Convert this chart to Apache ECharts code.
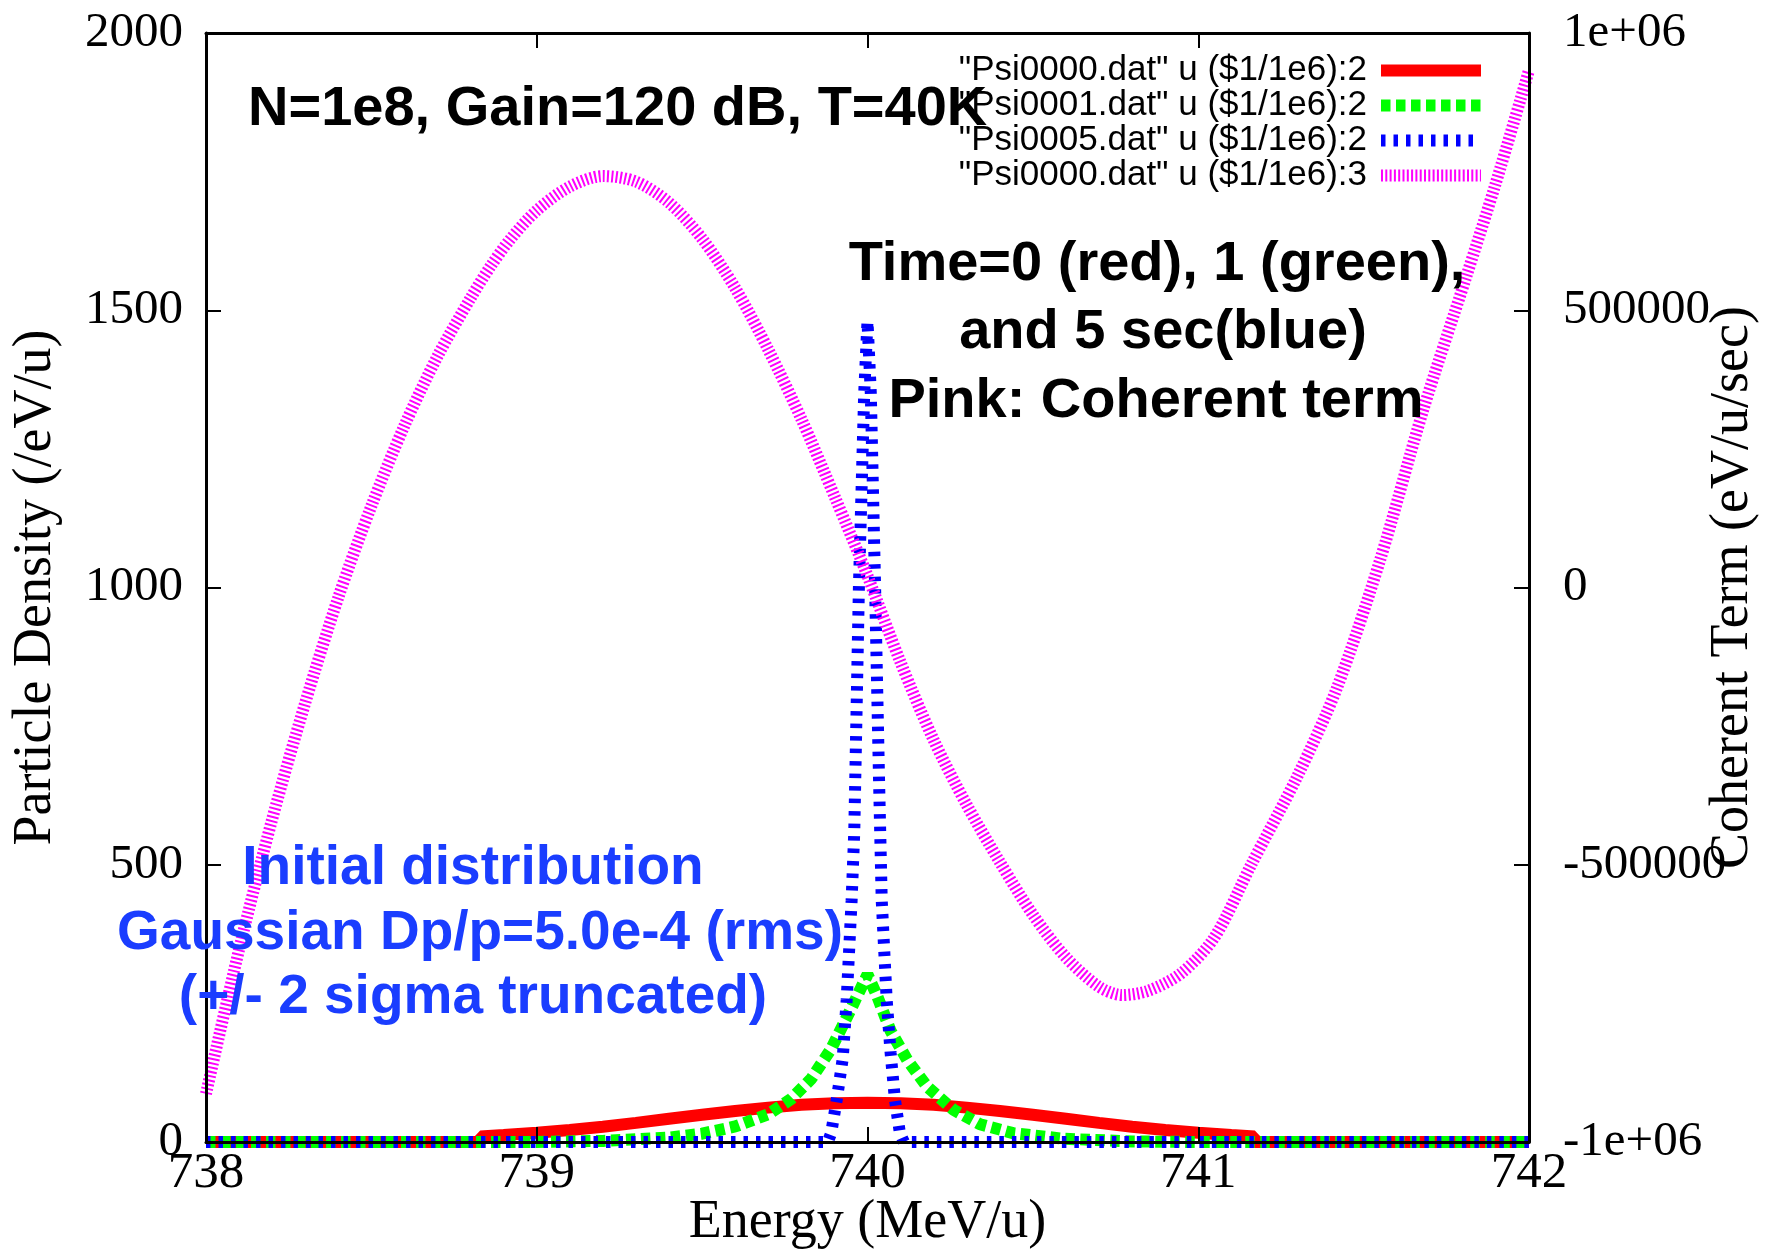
<!DOCTYPE html>
<html><head><meta charset="utf-8">
<script src="https://cdn.jsdelivr.net/npm/echarts@6/dist/echarts.min.js"></script>
<style>html,body{margin:0;padding:0;background:#fff}#c{width:1767px;height:1253px}</style>
</head><body><div id="c"></div>
<script>
// ---- data ----
const redE = [738.0, 738.83, 738.83, 738.9, 739.0, 739.1, 739.2, 739.3, 739.4, 739.5, 739.6, 739.7, 739.8, 739.9, 740.0, 740.1, 740.2, 740.3, 740.4, 740.5, 740.6, 740.7, 740.8, 740.9, 741.0, 741.1, 741.17, 741.17, 742.0];
const redV = [0, 0, 10, 12.5, 16.5, 21.5, 27.5, 34.5, 42, 49, 56, 62, 67, 70, 71, 70, 67, 62, 56, 49, 42, 34.5, 27.5, 21.5, 16.5, 12.5, 10, 0, 0];

const greenE = [738.0, 739.0, 739.2, 739.4, 739.5, 739.6, 739.7, 739.77, 739.83, 739.89, 739.95, 740.0, 740.03, 740.07, 740.12, 740.18, 740.26, 740.34, 740.44, 740.59, 740.8, 741.0, 742.0];
const greenV = [0, 0, 2, 8, 15, 28, 50, 78, 114, 168, 240, 302, 262, 200, 148, 100, 58, 32, 16, 6, 1, 0, 0];

const blueE = [738.0, 739.88, 739.89, 739.907, 739.925, 739.937, 739.952, 739.96, 739.974, 739.99, 740.0, 740.01, 740.023, 740.035, 740.043, 740.058, 740.07, 740.083, 740.098, 740.11, 742.0];
const blueV = [0, 0, 16, 76, 150, 256, 436, 560, 1000, 1350, 1480, 1350, 1000, 650, 436, 256, 160, 76, 16, 0, 0];

const pinkE = [738.0, 738.1, 738.2, 738.3, 738.4, 738.5, 738.6, 738.7, 738.8, 738.86, 738.92, 739.0, 739.1, 739.2, 739.3, 739.4, 739.5, 739.6, 739.7, 739.8, 739.9, 740.0, 740.1, 740.2, 740.3, 740.4, 740.5, 740.6, 740.7, 740.77, 740.85, 740.95, 741.05, 741.16, 741.3, 741.42, 741.55, 741.68, 741.81, 741.9, 742.0];
const pinkV = [-913000, -653000, -418000, -208000, -18000, 147000, 292000, 417000, 522000, 579000, 628000, 680000, 723000, 742000, 732000, 694000, 629000, 540000, 429000, 304000, 165000, 21000, -135000, -275000, -392000, -495000, -590000, -667000, -720000, -735000, -727000, -695000, -630000, -500000, -340000, -180000, 50000, 320000, 560000, 730000, 933000];

const xTicks = [738, 739, 740, 741, 742];
const leftTicks = [0, 500, 1000, 1500, 2000];
const rightTicks = [-1000000, -500000, 0, 500000, 1000000];
const rightTickLabels = ['-1e+06', '-500000', '0', '500000', '1e+06'];

const seriesNames = ['"Psi0000.dat" u ($1/1e6):2', '"Psi0001.dat" u ($1/1e6):2', '"Psi0005.dat" u ($1/1e6):2', '"Psi0000.dat" u ($1/1e6):3'];
const seriesColors = ['#ff0000', '#00ff00', '#0000ff', '#ff00ff'];

// ---- build ----
const zip = (a, b) => a.map((x, i) => [x, b[i]]);
const SERIF = '"Liberation Serif", "Times New Roman", serif';
const SANS = '"Liberation Sans", Arial, sans-serif';
const black = '#000';
const axisLineStyle = {show: true, onZero: false, lineStyle: {color: black, width: 3}};
const tickStyle = {show: true, inside: true, length: 15, lineStyle: {color: black, width: 2}};

const chart = echarts.init(document.getElementById('c'), null, {renderer: 'canvas'});
const option = {
  animation: false,
  backgroundColor: '#fff',
  grid: {left: 206, right: 238, top: 33, bottom: 111, containLabel: false, outerBoundsMode: 'none'},
  xAxis: [
    {type: 'value', min: xTicks[0], max: xTicks[xTicks.length - 1], interval: 1, position: 'bottom', z: 5,
     axisLine: axisLineStyle, axisTick: tickStyle, splitLine: {show: false},
     axisLabel: {margin: 6, fontSize: 51, fontFamily: SERIF, color: black, formatter: v => String(v)},
     name: 'Energy (MeV/u)', nameLocation: 'middle', nameGap: 54, nameMoveOverlap: false,
     nameTextStyle: {fontSize: 54, fontFamily: SERIF, color: black}},
    {type: 'value', min: xTicks[0], max: xTicks[xTicks.length - 1], interval: 1, position: 'top', z: 5,
     axisLine: axisLineStyle, axisTick: tickStyle, splitLine: {show: false}, axisLabel: {show: false}}
  ],
  yAxis: [
    {type: 'value', min: leftTicks[0], max: leftTicks[leftTicks.length - 1], interval: 500, position: 'left', z: 5,
     axisLine: axisLineStyle, axisTick: tickStyle, splitLine: {show: false},
     axisLabel: {margin: 23, fontSize: 49, fontFamily: SERIF, color: black, formatter: v => String(v)},
     name: 'Particle Density (/eV/u)', nameLocation: 'middle', nameGap: 143, nameRotate: 90, nameMoveOverlap: false,
     nameTextStyle: {fontSize: 54, fontFamily: SERIF, color: black}},
    {type: 'value', min: rightTicks[0], max: rightTicks[rightTicks.length - 1], interval: 500000, position: 'right', z: 5,
     axisLine: axisLineStyle, axisTick: tickStyle, splitLine: {show: false},
     axisLabel: {margin: 34, fontSize: 49, fontFamily: SERIF, color: black,
       formatter: v => { const i = rightTicks.indexOf(v); return i >= 0 ? rightTickLabels[i] : String(v); }},
     name: 'Coherent Term (eV/u/sec)', nameLocation: 'middle', nameGap: 177, nameRotate: 90, nameMoveOverlap: false,
     nameTextStyle: {fontSize: 54, fontFamily: SERIF, color: black}}
  ],
  legend: {
    data: seriesNames, orient: 'vertical', right: 280, top: 53, padding: 0,
    itemWidth: 100, itemHeight: 12, itemGap: 0, align: 'right', selectedMode: false,
    textStyle: {fontSize: 35, fontFamily: SANS, color: black, padding: [0, 9, 0, 0]},
    itemStyle: {opacity: 0}, lineStyle: {width: 12}
  },
  series: [
    {name: seriesNames[0], type: 'line', xAxisIndex: 0, yAxisIndex: 0, data: zip(redE, redV), symbol: 'none', clip: false,
     lineStyle: {color: seriesColors[0], width: 12}, itemStyle: {color: seriesColors[0]}, z: 2},
    {name: seriesNames[1], type: 'line', xAxisIndex: 0, yAxisIndex: 0, data: zip(greenE, greenV), symbol: 'none', clip: false,
     lineStyle: {color: seriesColors[1], width: 12, type: [9.5, 5.5]}, itemStyle: {color: seriesColors[1]}, z: 2},
    {name: seriesNames[2], type: 'line', xAxisIndex: 0, yAxisIndex: 0, data: zip(blueE, blueV), symbol: 'none', clip: false,
     lineStyle: {color: seriesColors[2], width: 12, type: [4.5, 8]}, itemStyle: {color: seriesColors[2]}, z: 2},
    {name: seriesNames[3], type: 'line', xAxisIndex: 0, yAxisIndex: 1, data: zip(pinkE, pinkV), symbol: 'none', clip: false, smooth: 0.3,
     lineStyle: {color: seriesColors[3], width: 12, type: [2, 2.3]}, itemStyle: {color: seriesColors[3]}, z: 2}
  ],
  graphic: [
    {type: 'text', x: 248, y: 110, z: 10, style: {text: 'N=1e8, Gain=120 dB, T=40K', font: 'bold 56px ' + SANS, fill: black, align: 'left', verticalAlign: 'middle'}},
    {type: 'text', x: 1157, y: 265, z: 10, style: {text: 'Time=0 (red), 1 (green),', font: 'bold 56px ' + SANS, fill: black, align: 'center', verticalAlign: 'middle'}},
    {type: 'text', x: 1163, y: 333, z: 10, style: {text: 'and 5 sec(blue)', font: 'bold 56px ' + SANS, fill: black, align: 'center', verticalAlign: 'middle'}},
    {type: 'text', x: 1156, y: 402, z: 10, style: {text: 'Pink: Coherent term', font: 'bold 56px ' + SANS, fill: black, align: 'center', verticalAlign: 'middle'}},
    {type: 'text', x: 473, y: 869, z: 10, style: {text: 'Initial distribution', font: 'bold 55px ' + SANS, fill: '#1a3dff', align: 'center', verticalAlign: 'middle'}},
    {type: 'text', x: 480, y: 934, z: 10, style: {text: 'Gaussian Dp/p=5.0e-4 (rms)', font: 'bold 55px ' + SANS, fill: '#1a3dff', align: 'center', verticalAlign: 'middle'}},
    {type: 'text', x: 473, y: 998, z: 10, style: {text: '(+/- 2 sigma truncated)', font: 'bold 55px ' + SANS, fill: '#1a3dff', align: 'center', verticalAlign: 'middle'}}
  ]
};
chart.setOption(option);
</script></body></html>
